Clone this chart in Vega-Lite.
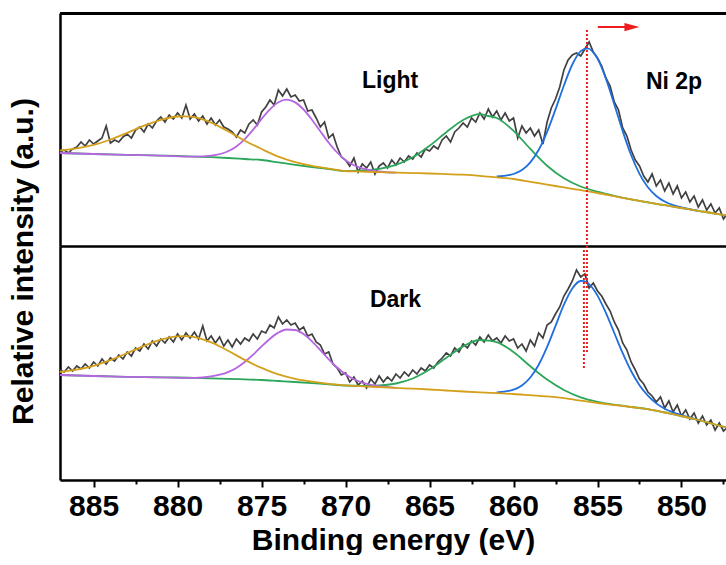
{
  "$schema": "https://vega.github.io/schema/vega-lite/v6.json",
  "padding": {"left": 8, "top": 13, "right": 0, "bottom": 0},
  "config": {
    "font": "Liberation Sans",
    "view": {"stroke": null},
    "axis": {
      "grid": false,
      "domainColor": "#000000",
      "domainWidth": 2.5,
      "tickColor": "#000000",
      "tickWidth": 2,
      "labelColor": "#000000",
      "titleColor": "#000000",
      "labelFont": "Liberation Sans",
      "titleFont": "Liberation Sans",
      "labelFontWeight": "bold",
      "titleFontWeight": "bold",
      "labelFontSize": 30,
      "titleFontSize": 30
    }
  },
  "datasets": {
    "lightRaw": [
      {"e":887,"i":94},{"e":886.75,"i":96},{"e":886.5,"i":93},{"e":886.25,"i":97},{"e":886,"i":99},{"e":885.75,"i":104},{"e":885.5,"i":100},{"e":885.25,"i":106},{"e":885,"i":102},{"e":884.75,"i":105},{"e":884.5,"i":108},{"e":884.25,"i":120},{"e":884,"i":103},{"e":883.75,"i":106},{"e":883.5,"i":104},{"e":883.25,"i":109},{"e":883,"i":112},{"e":882.75,"i":108},{"e":882.5,"i":116},{"e":882.25,"i":119},{"e":882,"i":114},{"e":881.75,"i":122},{"e":881.5,"i":118},{"e":881.25,"i":125},{"e":881,"i":129},{"e":880.75,"i":124},{"e":880.5,"i":131},{"e":880.25,"i":127},{"e":880,"i":133},{"e":879.75,"i":128},{"e":879.5,"i":141},{"e":879.25,"i":127},{"e":879,"i":132},{"e":878.75,"i":125},{"e":878.5,"i":130},{"e":878.25,"i":122},{"e":878,"i":128},{"e":877.75,"i":121},{"e":877.5,"i":126},{"e":877.25,"i":119},{"e":877,"i":117},{"e":876.75,"i":114},{"e":876.5,"i":109},{"e":876.25,"i":116},{"e":876,"i":113},{"e":875.75,"i":122},{"e":875.5,"i":126},{"e":875.25,"i":121},{"e":875,"i":134},{"e":874.75,"i":139},{"e":874.5,"i":146},{"e":874.25,"i":141},{"e":874,"i":156},{"e":873.75,"i":150},{"e":873.5,"i":157},{"e":873.25,"i":149},{"e":873,"i":151},{"e":872.75,"i":145},{"e":872.5,"i":146},{"e":872.25,"i":135},{"e":872,"i":136},{"e":871.75,"i":128},{"e":871.5,"i":119},{"e":871.25,"i":124},{"e":871,"i":108},{"e":870.75,"i":112},{"e":870.5,"i":99},{"e":870.25,"i":89},{"e":870,"i":86},{"e":869.75,"i":80},{"e":869.5,"i":88},{"e":869.25,"i":74},{"e":869,"i":82},{"e":868.75,"i":78},{"e":868.5,"i":84},{"e":868.25,"i":72},{"e":868,"i":80},{"e":867.75,"i":83},{"e":867.5,"i":78},{"e":867.25,"i":86},{"e":867,"i":81},{"e":866.75,"i":88},{"e":866.5,"i":84},{"e":866.25,"i":90},{"e":866,"i":87},{"e":865.75,"i":93},{"e":865.5,"i":89},{"e":865.25,"i":97},{"e":865,"i":95},{"e":864.75,"i":100},{"e":864.5,"i":97},{"e":864.25,"i":106},{"e":864,"i":110},{"e":863.75,"i":104},{"e":863.5,"i":114},{"e":863.25,"i":118},{"e":863,"i":123},{"e":862.75,"i":119},{"e":862.5,"i":128},{"e":862.25,"i":124},{"e":862,"i":133},{"e":861.75,"i":127},{"e":861.5,"i":137},{"e":861.25,"i":129},{"e":861,"i":135},{"e":860.75,"i":126},{"e":860.5,"i":133},{"e":860.25,"i":125},{"e":860,"i":128},{"e":859.75,"i":108},{"e":859.5,"i":120},{"e":859.25,"i":113},{"e":859,"i":118},{"e":858.75,"i":110},{"e":858.5,"i":116},{"e":858.25,"i":102},{"e":858,"i":124},{"e":857.75,"i":138},{"e":857.5,"i":147},{"e":857.25,"i":159},{"e":857,"i":176},{"e":856.75,"i":186},{"e":856.5,"i":191},{"e":856.25,"i":193},{"e":856,"i":190},{"e":855.75,"i":197},{"e":855.5,"i":204},{"e":855.25,"i":194},{"e":855,"i":188},{"e":854.75,"i":180},{"e":854.5,"i":168},{"e":854.25,"i":160},{"e":854,"i":144},{"e":853.75,"i":136},{"e":853.5,"i":118},{"e":853.25,"i":110},{"e":853,"i":96},{"e":852.75,"i":86},{"e":852.5,"i":80},{"e":852.25,"i":70},{"e":852,"i":64},{"e":851.75,"i":72},{"e":851.5,"i":60},{"e":851.25,"i":66},{"e":851,"i":55},{"e":850.75,"i":63},{"e":850.5,"i":52},{"e":850.25,"i":60},{"e":850,"i":48},{"e":849.75,"i":54},{"e":849.5,"i":44},{"e":849.25,"i":50},{"e":849,"i":39},{"e":848.75,"i":46},{"e":848.5,"i":36},{"e":848.25,"i":42},{"e":848,"i":33},{"e":847.75,"i":38},{"e":847.5,"i":27},{"e":847.25,"i":33},{"e":847,"i":29}
    ],
    "lightFit": [
      {"c":"sat32","e":887,"i":93},{"c":"sat32","e":886,"i":92.5},{"c":"sat32","e":885,"i":92},{"c":"sat32","e":884,"i":91.6},{"c":"sat32","e":883,"i":91.2},{"c":"sat32","e":882,"i":90.8},{"c":"sat32","e":881,"i":90.4},{"c":"sat32","e":880,"i":90},{"c":"sat32","e":879,"i":89.4},{"c":"sat32","e":878,"i":88.8},{"c":"sat32","e":877,"i":88},{"c":"sat32","e":876,"i":87},{"c":"sat32","e":875,"i":86},{"c":"sat32","e":874,"i":83.6},{"c":"sat32","e":873,"i":81.2},{"c":"sat32","e":872,"i":79},{"c":"sat32","e":871,"i":77},{"c":"sat32","e":870,"i":75},{"c":"sat32","e":869,"i":75.6},{"c":"sat32","e":868,"i":77.1},{"c":"sat32","e":867,"i":81.1},{"c":"sat32","e":866,"i":88.7},{"c":"sat32","e":865,"i":100.2},{"c":"sat32","e":864,"i":113.8},{"c":"sat32","e":863,"i":126},{"c":"sat32","e":862,"i":131.8},{"c":"sat32","e":861.5,"i":130},{"c":"sat32","e":861,"i":128},{"c":"sat32","e":860,"i":115.2},{"c":"sat32","e":859,"i":97.1},{"c":"sat32","e":858,"i":80.3},{"c":"sat32","e":857,"i":67.7},{"c":"sat32","e":856,"i":59.5},{"c":"sat32","e":855,"i":54.3},{"c":"sat32","e":854,"i":50.2},{"c":"sat32","e":853,"i":46.6},{"c":"sat32","e":852,"i":43.6},{"c":"sat32","e":851,"i":40.8},{"c":"sat32","e":850,"i":38},{"c":"sat32","e":849,"i":35.2},{"c":"sat32","e":848,"i":32.4},{"c":"sat32","e":847,"i":30},
      {"c":"main32","e":861,"i":69.5},{"c":"main32","e":860,"i":72},{"c":"main32","e":859.5,"i":75.9},{"c":"main32","e":859,"i":83.6},{"c":"main32","e":858.5,"i":96.2},{"c":"main32","e":858,"i":114.2},{"c":"main32","e":857.5,"i":136.6},{"c":"main32","e":857,"i":160.5},{"c":"main32","e":856.5,"i":181.5},{"c":"main32","e":856,"i":194.9},{"c":"main32","e":855.6,"i":197.7},{"c":"main32","e":855,"i":187.4},{"c":"main32","e":854.5,"i":167.4},{"c":"main32","e":854,"i":141.6},{"c":"main32","e":853.5,"i":114.9},{"c":"main32","e":853,"i":91},{"c":"main32","e":852.5,"i":72.2},{"c":"main32","e":852,"i":58.8},{"c":"main32","e":851.5,"i":50},{"c":"main32","e":851,"i":44.5},{"c":"main32","e":850.5,"i":41},{"c":"main32","e":850,"i":38.6},{"c":"main32","e":849,"i":35.2},
      {"c":"main12","e":887,"i":93},{"c":"main12","e":885,"i":92},{"c":"main12","e":883,"i":91.2},{"c":"main12","e":881,"i":90.4},{"c":"main12","e":879,"i":89.4},{"c":"main12","e":878,"i":90.4},{"c":"main12","e":877,"i":94.8},{"c":"main12","e":876.5,"i":99.6},{"c":"main12","e":876,"i":106.9},{"c":"main12","e":875.5,"i":116.3},{"c":"main12","e":875,"i":127.1},{"c":"main12","e":874.5,"i":136.7},{"c":"main12","e":874,"i":143.7},{"c":"main12","e":873.5,"i":146.3},{"c":"main12","e":873,"i":143.6},{"c":"main12","e":872.5,"i":136.5},{"c":"main12","e":872,"i":126.3},{"c":"main12","e":871.5,"i":114.7},{"c":"main12","e":871,"i":103.3},{"c":"main12","e":870.5,"i":93.5},{"c":"main12","e":870,"i":85.7},{"c":"main12","e":869.5,"i":80.8},{"c":"main12","e":869,"i":77.6},{"c":"main12","e":868,"i":74.5},{"c":"main12","e":867,"i":73.3},
      {"c":"sat12","e":887,"i":95.6},{"c":"sat12","e":886,"i":97.6},{"c":"sat12","e":885,"i":101.1},{"c":"sat12","e":884,"i":106.5},{"c":"sat12","e":883,"i":113.2},{"c":"sat12","e":882,"i":120.3},{"c":"sat12","e":881,"i":126.2},{"c":"sat12","e":880,"i":129.5},{"c":"sat12","e":879.5,"i":129.7},{"c":"sat12","e":879,"i":128.8},{"c":"sat12","e":878,"i":123.4},{"c":"sat12","e":877,"i":114.8},{"c":"sat12","e":876,"i":105.3},{"c":"sat12","e":875,"i":97},{"c":"sat12","e":874,"i":89.4},{"c":"sat12","e":873,"i":83.9},{"c":"sat12","e":872,"i":80.1},{"c":"sat12","e":871,"i":77.4},{"c":"sat12","e":870,"i":75},{"c":"sat12","e":869,"i":74.4},{"c":"sat12","e":868,"i":73.8},{"c":"sat12","e":867,"i":73.3},{"c":"sat12","e":866,"i":72.9},{"c":"sat12","e":865,"i":72.5},{"c":"sat12","e":864,"i":71.9},{"c":"sat12","e":863,"i":71.3},{"c":"sat12","e":862,"i":70.2},{"c":"sat12","e":861,"i":68.6},{"c":"sat12","e":860,"i":67},{"c":"sat12","e":859,"i":64.2},{"c":"sat12","e":858,"i":61.4},{"c":"sat12","e":857,"i":58.6},{"c":"sat12","e":856,"i":55.8},{"c":"sat12","e":855,"i":53},{"c":"sat12","e":854,"i":49.8},{"c":"sat12","e":853,"i":46.6},{"c":"sat12","e":852,"i":43.6},{"c":"sat12","e":851,"i":40.8},{"c":"sat12","e":850,"i":38},{"c":"sat12","e":849,"i":35.2},{"c":"sat12","e":848,"i":32.4},{"c":"sat12","e":847,"i":30}
    ],
    "lightNote": [
      {"k":"label","t":"Light","e":869.02,"i":158},
      {"k":"label","t":"Ni 2p","e":852.12,"i":157},
      {"k":"rule","e":855.63,"i":216,"i2":0},
      {"k":"arrow","e":854.98,"i":219},
      {"k":"arrow","e":852.95,"i":219},
      {"k":"head","e":852.95,"i":219}
    ],
    "darkRaw": [
      {"e":887,"i":110},{"e":886.75,"i":108},{"e":886.5,"i":113},{"e":886.25,"i":109},{"e":886,"i":114},{"e":885.75,"i":111},{"e":885.5,"i":116},{"e":885.25,"i":112},{"e":885,"i":118},{"e":884.75,"i":114},{"e":884.5,"i":121},{"e":884.25,"i":116},{"e":884,"i":122},{"e":883.75,"i":119},{"e":883.5,"i":125},{"e":883.25,"i":121},{"e":883,"i":128},{"e":882.75,"i":124},{"e":882.5,"i":132},{"e":882.25,"i":129},{"e":882,"i":136},{"e":881.75,"i":131},{"e":881.5,"i":139},{"e":881.25,"i":134},{"e":881,"i":141},{"e":880.75,"i":137},{"e":880.5,"i":143},{"e":880.25,"i":138},{"e":880,"i":146},{"e":879.75,"i":140},{"e":879.5,"i":147},{"e":879.25,"i":142},{"e":879,"i":148},{"e":878.75,"i":141},{"e":878.5,"i":154},{"e":878.25,"i":139},{"e":878,"i":144},{"e":877.75,"i":137},{"e":877.5,"i":143},{"e":877.25,"i":134},{"e":877,"i":140},{"e":876.75,"i":133},{"e":876.5,"i":141},{"e":876.25,"i":136},{"e":876,"i":142},{"e":875.75,"i":139},{"e":875.5,"i":146},{"e":875.25,"i":141},{"e":875,"i":149},{"e":874.75,"i":147},{"e":874.5,"i":155},{"e":874.25,"i":152},{"e":874,"i":163},{"e":873.75,"i":156},{"e":873.5,"i":160},{"e":873.25,"i":155},{"e":873,"i":157},{"e":872.75,"i":150},{"e":872.5,"i":153},{"e":872.25,"i":144},{"e":872,"i":146},{"e":871.75,"i":138},{"e":871.5,"i":135},{"e":871.25,"i":126},{"e":871,"i":128},{"e":870.75,"i":116},{"e":870.5,"i":112},{"e":870.25,"i":105},{"e":870,"i":107},{"e":869.75,"i":98},{"e":869.5,"i":103},{"e":869.25,"i":95},{"e":869,"i":99},{"e":868.75,"i":92},{"e":868.5,"i":101},{"e":868.25,"i":96},{"e":868,"i":104},{"e":867.75,"i":98},{"e":867.5,"i":103},{"e":867.25,"i":99},{"e":867,"i":106},{"e":866.75,"i":102},{"e":866.5,"i":108},{"e":866.25,"i":104},{"e":866,"i":110},{"e":865.75,"i":106},{"e":865.5,"i":112},{"e":865.25,"i":109},{"e":865,"i":115},{"e":864.75,"i":112},{"e":864.5,"i":118},{"e":864.25,"i":122},{"e":864,"i":127},{"e":863.75,"i":124},{"e":863.5,"i":132},{"e":863.25,"i":128},{"e":863,"i":136},{"e":862.75,"i":132},{"e":862.5,"i":139},{"e":862.25,"i":135},{"e":862,"i":143},{"e":861.75,"i":138},{"e":861.5,"i":145},{"e":861.25,"i":139},{"e":861,"i":142},{"e":860.75,"i":137},{"e":860.5,"i":144},{"e":860.25,"i":139},{"e":860,"i":141},{"e":859.75,"i":132},{"e":859.5,"i":136},{"e":859.25,"i":129},{"e":859,"i":140},{"e":858.75,"i":134},{"e":858.5,"i":147},{"e":858.25,"i":142},{"e":858,"i":155},{"e":857.75,"i":158},{"e":857.5,"i":166},{"e":857.25,"i":173},{"e":857,"i":184},{"e":856.75,"i":191},{"e":856.5,"i":199},{"e":856.25,"i":210},{"e":856,"i":203},{"e":855.75,"i":206},{"e":855.5,"i":192},{"e":855.25,"i":197},{"e":855,"i":189},{"e":854.75,"i":184},{"e":854.5,"i":176},{"e":854.25,"i":169},{"e":854,"i":158},{"e":853.75,"i":150},{"e":853.5,"i":137},{"e":853.25,"i":130},{"e":853,"i":118},{"e":852.75,"i":110},{"e":852.5,"i":101},{"e":852.25,"i":96},{"e":852,"i":88},{"e":851.75,"i":84},{"e":851.5,"i":78},{"e":851.25,"i":83},{"e":851,"i":72},{"e":850.75,"i":79},{"e":850.5,"i":68},{"e":850.25,"i":75},{"e":850,"i":64},{"e":849.75,"i":70},{"e":849.5,"i":61},{"e":849.25,"i":67},{"e":849,"i":57},{"e":848.75,"i":64},{"e":848.5,"i":55},{"e":848.25,"i":60},{"e":848,"i":50},{"e":847.75,"i":57},{"e":847.5,"i":49},{"e":847.25,"i":53},{"e":847,"i":48}
    ],
    "darkFit": [
      {"c":"sat32","e":887,"i":105},{"c":"sat32","e":886,"i":104.5},{"c":"sat32","e":885,"i":104},{"c":"sat32","e":884,"i":103.6},{"c":"sat32","e":883,"i":103.2},{"c":"sat32","e":882,"i":102.9},{"c":"sat32","e":881,"i":102.7},{"c":"sat32","e":880,"i":102.5},{"c":"sat32","e":879,"i":102.1},{"c":"sat32","e":878,"i":101.7},{"c":"sat32","e":877,"i":101.2},{"c":"sat32","e":876,"i":100.6},{"c":"sat32","e":875,"i":100},{"c":"sat32","e":874,"i":99},{"c":"sat32","e":873,"i":98},{"c":"sat32","e":872,"i":96.9},{"c":"sat32","e":871,"i":95.7},{"c":"sat32","e":870,"i":94.5},{"c":"sat32","e":869,"i":94.2},{"c":"sat32","e":868,"i":94.5},{"c":"sat32","e":867,"i":96.5},{"c":"sat32","e":866,"i":101.5},{"c":"sat32","e":865,"i":110.4},{"c":"sat32","e":864,"i":122.2},{"c":"sat32","e":863,"i":133.6},{"c":"sat32","e":862,"i":140},{"c":"sat32","e":861.5,"i":139.4},{"c":"sat32","e":861,"i":137.9},{"c":"sat32","e":860,"i":128},{"c":"sat32","e":859,"i":113.7},{"c":"sat32","e":858,"i":100.4},{"c":"sat32","e":857,"i":90},{"c":"sat32","e":856,"i":82.7},{"c":"sat32","e":855,"i":78.2},{"c":"sat32","e":854,"i":75.3},{"c":"sat32","e":853,"i":73},{"c":"sat32","e":852,"i":70.9},{"c":"sat32","e":851,"i":67.5},{"c":"sat32","e":850,"i":64},{"c":"sat32","e":849,"i":60},{"c":"sat32","e":848,"i":55.5},{"c":"sat32","e":847,"i":51},
      {"c":"main32","e":861,"i":87.5},{"c":"main32","e":860,"i":90.3},{"c":"main32","e":859.5,"i":94.5},{"c":"main32","e":859,"i":102.5},{"c":"main32","e":858.5,"i":115.3},{"c":"main32","e":858,"i":133.1},{"c":"main32","e":857.5,"i":154.1},{"c":"main32","e":857,"i":175.3},{"c":"main32","e":856.5,"i":191.6},{"c":"main32","e":856,"i":199},{"c":"main32","e":855.87,"i":199.1},{"c":"main32","e":855.5,"i":195.8},{"c":"main32","e":855,"i":184.4},{"c":"main32","e":854.5,"i":167.2},{"c":"main32","e":854,"i":147},{"c":"main32","e":853.5,"i":126.8},{"c":"main32","e":853,"i":109},{"c":"main32","e":852.5,"i":94.8},{"c":"main32","e":852,"i":84.3},{"c":"main32","e":851.5,"i":76.6},{"c":"main32","e":851,"i":71.3},{"c":"main32","e":850.5,"i":67.6},{"c":"main32","e":850,"i":64.8},{"c":"main32","e":849,"i":60},
      {"c":"main12","e":887,"i":105},{"c":"main12","e":885,"i":104},{"c":"main12","e":883,"i":103.2},{"c":"main12","e":881,"i":102.7},{"c":"main12","e":879,"i":102.1},{"c":"main12","e":878,"i":103.6},{"c":"main12","e":877,"i":107.9},{"c":"main12","e":876.5,"i":112.1},{"c":"main12","e":876,"i":118},{"c":"main12","e":875.5,"i":125.3},{"c":"main12","e":875,"i":133.6},{"c":"main12","e":874.5,"i":141.3},{"c":"main12","e":874,"i":147.4},{"c":"main12","e":873.5,"i":150.5},{"c":"main12","e":873,"i":150},{"c":"main12","e":872.5,"i":145.9},{"c":"main12","e":872,"i":138.7},{"c":"main12","e":871.5,"i":129.9},{"c":"main12","e":871,"i":120.7},{"c":"main12","e":870.5,"i":112.5},{"c":"main12","e":870,"i":105.7},{"c":"main12","e":869.5,"i":100.8},{"c":"main12","e":869,"i":97.4},{"c":"main12","e":868.5,"i":95.2},{"c":"main12","e":868,"i":93.8},{"c":"main12","e":867,"i":92.2},
      {"c":"sat12","e":887,"i":108},{"c":"sat12","e":886,"i":110.3},{"c":"sat12","e":885,"i":114.2},{"c":"sat12","e":884,"i":119.9},{"c":"sat12","e":883,"i":126.9},{"c":"sat12","e":882,"i":134.2},{"c":"sat12","e":881,"i":140.3},{"c":"sat12","e":880,"i":143.6},{"c":"sat12","e":879.5,"i":143.8},{"c":"sat12","e":879,"i":142.8},{"c":"sat12","e":878,"i":137.6},{"c":"sat12","e":877,"i":129.3},{"c":"sat12","e":876,"i":120.1},{"c":"sat12","e":875,"i":112.1},{"c":"sat12","e":874,"i":105.6},{"c":"sat12","e":873,"i":101.2},{"c":"sat12","e":872,"i":98.3},{"c":"sat12","e":871,"i":96.2},{"c":"sat12","e":870,"i":94.7},{"c":"sat12","e":869,"i":93.7},{"c":"sat12","e":868,"i":92.9},{"c":"sat12","e":867,"i":92.1},{"c":"sat12","e":866,"i":91.3},{"c":"sat12","e":865,"i":90.5},{"c":"sat12","e":864,"i":89.5},{"c":"sat12","e":863,"i":88.5},{"c":"sat12","e":862,"i":87.6},{"c":"sat12","e":861,"i":86.8},{"c":"sat12","e":860,"i":86},{"c":"sat12","e":859,"i":84.8},{"c":"sat12","e":858,"i":83.6},{"c":"sat12","e":857,"i":81.8},{"c":"sat12","e":856,"i":79.4},{"c":"sat12","e":855,"i":77},{"c":"sat12","e":854,"i":75},{"c":"sat12","e":853,"i":73},{"c":"sat12","e":852,"i":70.9},{"c":"sat12","e":851,"i":67.5},{"c":"sat12","e":850,"i":64},{"c":"sat12","e":849,"i":60},{"c":"sat12","e":848,"i":55.5},{"c":"sat12","e":847,"i":51}
    ],
    "darkNote": [
      {"k":"label","t":"Dark","e":868.55,"i":173},
      {"k":"rule","e":855.63,"i":234,"i2":128},
      {"k":"rule","e":855.81,"i":230,"i2":112}
    ]
  },
  "spacing": 0,
  "bounds": "flush",
  "vconcat": [
    {
      "width": 666,
      "height": 233,
      "encoding": {
        "x": {"field": "e", "type": "quantitative", "scale": {"domain": [887, 847.35], "nice": false, "zero": false},
              "axis": {"orient": "top", "domain": true, "ticks": false, "labels": false, "title": null}},
        "y": {"field": "i", "type": "quantitative", "scale": {"domain": [0, 233], "nice": false, "zero": false},
              "axis": {"ticks": false, "labels": false, "title": "Relative intensity (a.u.)", "titleY": 248, "titlePadding": 22}}
      },
      "layer": [
        {"data": {"name": "lightRaw"}, "mark": {"type": "line", "color": "#404040", "strokeWidth": 1.7}},
        {
          "data": {"name": "lightFit"},
          "mark": {"type": "line", "strokeWidth": 1.8, "interpolate": "monotone"},
          "encoding": {
            "x": {"field": "e", "type": "quantitative", "scale": {"domain": [887, 847.35], "nice": false, "zero": false},
                  "axis": {"orient": "bottom", "domain": true, "ticks": false, "labels": false, "title": null}},
            "color": {"field": "c", "type": "nominal", "legend": null,
                      "scale": {"domain": ["sat32", "main32", "main12", "sat12"], "range": ["#2ca65a", "#1f6fde", "#b566e0", "#d4a01c"]}}
          }
        },
        {
          "data": {"name": "lightNote"},
          "transform": [{"filter": "datum.k === 'rule'"}],
          "mark": {"type": "rule", "color": "#ee1c1c", "strokeWidth": 2, "strokeDash": [2, 2]},
          "encoding": {"y2": {"field": "i2"}}
        },
        {
          "data": {"name": "lightNote"},
          "transform": [{"filter": "datum.k === 'label'"}],
          "mark": {"type": "text", "align": "left", "baseline": "alphabetic", "fontSize": 23, "fontWeight": "bold", "color": "#000000"},
          "encoding": {"text": {"field": "t"}}
        },
        {
          "data": {"name": "lightNote"},
          "transform": [{"filter": "datum.k === 'arrow'"}],
          "mark": {"type": "line", "color": "#ee1c1c", "strokeWidth": 2}
        },
        {
          "data": {"name": "lightNote"},
          "transform": [{"filter": "datum.k === 'head'"}],
          "mark": {"type": "point", "shape": "M-1,-0.55L1,0L-1,0.55Z", "size": 225, "filled": true, "opacity": 1, "color": "#ee1c1c"}
        }
      ],
      "resolve": {"axis": {"x": "independent"}}
    },
    {
      "width": 666,
      "height": 234,
      "encoding": {
        "x": {"field": "e", "type": "quantitative", "scale": {"domain": [887, 847.35], "nice": false, "zero": false},
              "axis": {"orient": "bottom", "title": "Binding energy (eV)",
                       "values": [885, 882.5, 880, 877.5, 875, 872.5, 870, 867.5, 865, 862.5, 860, 857.5, 855, 852.5, 850, 847.5],
                       "labelExpr": "datum.value % 5 === 0 ? datum.label : ''",
                       "tickSize": {"condition": {"test": "datum.value % 5 === 0", "value": 7}, "value": 4},
                       "labelPadding": 4, "titlePadding": 4, "labelOverlap": false, "labelFlush": false}},
        "y": {"field": "i", "type": "quantitative", "scale": {"domain": [0, 234], "nice": false, "zero": false},
              "axis": {"ticks": false, "labels": false, "title": null}}
      },
      "layer": [
        {"data": {"name": "darkRaw"}, "mark": {"type": "line", "color": "#404040", "strokeWidth": 1.7}},
        {
          "data": {"name": "darkFit"},
          "mark": {"type": "line", "strokeWidth": 1.8, "interpolate": "monotone"},
          "encoding": {
            "color": {"field": "c", "type": "nominal", "legend": null,
                      "scale": {"domain": ["sat32", "main32", "main12", "sat12"], "range": ["#2ca65a", "#1f6fde", "#b566e0", "#d4a01c"]}}
          }
        },
        {
          "data": {"name": "darkNote"},
          "transform": [{"filter": "datum.k === 'rule'"}],
          "mark": {"type": "rule", "color": "#ee1c1c", "strokeWidth": 2, "strokeDash": [2, 2]},
          "encoding": {"y2": {"field": "i2"}}
        },
        {
          "data": {"name": "darkNote"},
          "transform": [{"filter": "datum.k === 'label'"}],
          "mark": {"type": "text", "align": "left", "baseline": "alphabetic", "fontSize": 23, "fontWeight": "bold", "color": "#000000"},
          "encoding": {"text": {"field": "t"}}
        }
      ]
    }
  ]
}
